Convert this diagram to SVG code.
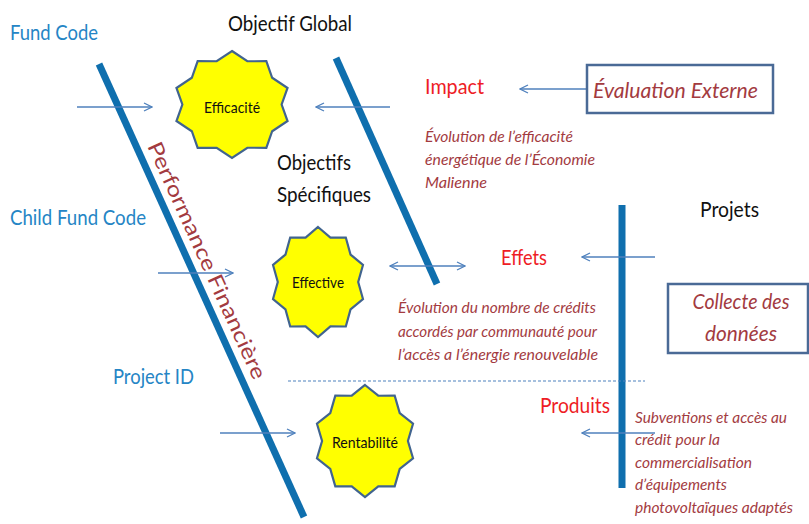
<svg xmlns="http://www.w3.org/2000/svg" xmlns:xlink="http://www.w3.org/1999/xlink" width="809" height="524" viewBox="0 0 809 524">
  <style>
    text { font-family: Lato, "Open Sans", "Liberation Sans", sans-serif; }
    .blue { fill: #2585C5; font-size: 21px; }
    .black { fill: #111111; font-size: 21px; }
    .red { fill: #EE1C25; font-size: 21px; }
    .note { fill: #A33B3F; font-size: 15px; font-style: italic; }
    .boxtext { fill: #A33B3F; font-size: 22px; font-style: italic; }
    .perf { fill: #A33B3F; font-size: 21px; }
    .startext { fill: #111111; font-size: 15px; text-anchor: middle; }
    .bar { stroke: #0F6FAE; stroke-width: 7; fill: none; }
    .arrow { stroke: #4F81BD; stroke-width: 1.3; fill: none; }
    .dash { stroke: #4F81BD; stroke-width: 1.2; stroke-dasharray: 3 2; fill: none; }
    .box { fill: #FFFFFF; stroke: #4A6A96; stroke-width: 2.5; }
    .star { fill: #FFFF00; stroke: #41648F; stroke-width: 2.2; }
  </style>
  <defs>
    <marker id="head" viewBox="0 0 10 10" refX="9" refY="5" markerWidth="10" markerHeight="10" markerUnits="userSpaceOnUse" orient="auto-start-reverse">
      <path d="M1,1 L9,5 L1,9" stroke="#4F81BD" stroke-width="1.3" fill="none"/>
    </marker>
    <!-- ten-point star, outer radius 100, inner radius 85 -->
    <polygon id="star10" class="star" vector-effect="non-scaling-stroke" points="0,-100 26.27,-80.84 58.78,-80.9 68.77,-49.96 95.11,-30.9 85,0 95.11,30.9 68.77,49.96 58.78,80.9 26.27,80.84 0,100 -26.27,80.84 -58.78,80.9 -68.77,49.96 -95.11,30.9 -85,0 -95.11,-30.9 -68.77,-49.96 -58.78,-80.9 -26.27,-80.84"/>
  </defs>

  <rect width="809" height="524" fill="#FFFFFF"/>

  <!-- structural bars -->
  <g id="bars">
    <line class="bar" x1="99" y1="64" x2="304" y2="517"/>
    <line class="bar" x1="336" y1="58" x2="437" y2="284"/>
    <line class="bar" x1="622" y1="205" x2="622" y2="488"/>
  </g>

  <!-- connectors -->
  <g id="connectors">
    <line class="arrow" x1="77" y1="107" x2="152" y2="107" marker-end="url(#head)"/>
    <line class="arrow" x1="390" y1="107" x2="316" y2="107" marker-end="url(#head)"/>
    <line class="arrow" x1="587" y1="89" x2="520" y2="89" marker-end="url(#head)"/>
    <line class="arrow" x1="158" y1="273" x2="233" y2="273" marker-end="url(#head)"/>
    <line class="arrow" x1="390" y1="266" x2="465" y2="266" marker-start="url(#head)" marker-end="url(#head)"/>
    <line class="arrow" x1="655" y1="257" x2="582" y2="257" marker-end="url(#head)"/>
    <line class="arrow" x1="220" y1="433" x2="295" y2="433" marker-end="url(#head)"/>
    <line class="arrow" x1="655" y1="433" x2="582" y2="433" marker-end="url(#head)"/>
    <line class="dash" x1="288" y1="381" x2="645" y2="381"/>
  </g>

  <!-- stars -->
  <g id="efficacite">
    <use xlink:href="#star10" transform="translate(232,104.5) scale(0.584,0.535)"/>
    <text class="startext" x="232" y="113" textLength="56" lengthAdjust="spacingAndGlyphs">Efficacité</text>
  </g>
  <g id="effective">
    <use xlink:href="#star10" transform="translate(318,282) scale(0.473,0.55)"/>
    <text class="startext" x="318" y="288" textLength="52" lengthAdjust="spacingAndGlyphs">Effective</text>
  </g>
  <g id="rentabilite">
    <use xlink:href="#star10" transform="translate(365,441) scale(0.505,0.56)"/>
    <text class="startext" x="365" y="448" textLength="66" lengthAdjust="spacingAndGlyphs">Rentabilité</text>
  </g>

  <!-- boxes -->
  <g id="evaluation-externe">
    <rect class="box" x="587" y="65" width="186" height="48"/>
    <text class="boxtext" x="593" y="98" textLength="165" lengthAdjust="spacingAndGlyphs">Évaluation Externe</text>
  </g>
  <g id="collecte-donnees">
    <rect class="box" x="668" y="284" width="140" height="69"/>
    <text class="boxtext" x="741" y="309" text-anchor="middle" textLength="97" lengthAdjust="spacingAndGlyphs">Collecte des</text>
    <text class="boxtext" x="741" y="341" text-anchor="middle" textLength="72" lengthAdjust="spacingAndGlyphs">données</text>
  </g>

  <!-- labels -->
  <g id="fund-code"><text class="blue" x="10" y="40" textLength="88" lengthAdjust="spacingAndGlyphs">Fund Code</text></g>
  <g id="child-fund-code"><text class="blue" x="10" y="225" textLength="136" lengthAdjust="spacingAndGlyphs">Child Fund Code</text></g>
  <g id="project-id"><text class="blue" x="113" y="384" textLength="81" lengthAdjust="spacingAndGlyphs">Project ID</text></g>

  <g id="objectif-global"><text class="black" x="228" y="31" textLength="124" lengthAdjust="spacingAndGlyphs">Objectif Global</text></g>
  <g id="objectifs-specifiques">
    <text class="black" x="277" y="170" textLength="74" lengthAdjust="spacingAndGlyphs">Objectifs</text>
    <text class="black" x="277" y="202" textLength="94" lengthAdjust="spacingAndGlyphs">Spécifiques</text>
  </g>
  <g id="projets"><text class="black" x="700" y="217" textLength="59" lengthAdjust="spacingAndGlyphs">Projets</text></g>

  <g id="impact">
    <text class="red" x="425" y="94" textLength="59" lengthAdjust="spacingAndGlyphs">Impact</text>
    <text class="note" x="425" y="142" textLength="148" lengthAdjust="spacingAndGlyphs">Évolution de l’efficacité</text>
    <text class="note" x="425" y="165" textLength="170" lengthAdjust="spacingAndGlyphs">énergétique de l’Économie</text>
    <text class="note" x="425" y="188" textLength="62" lengthAdjust="spacingAndGlyphs">Malienne</text>
  </g>
  <g id="effets">
    <text class="red" x="501" y="265" textLength="46" lengthAdjust="spacingAndGlyphs">Effets</text>
    <text class="note" x="398" y="313" textLength="198" lengthAdjust="spacingAndGlyphs">Évolution du nombre de crédits</text>
    <text class="note" x="398" y="337" textLength="199" lengthAdjust="spacingAndGlyphs">accordés par communauté pour</text>
    <text class="note" x="398" y="360" textLength="200" lengthAdjust="spacingAndGlyphs">l’accès a l’énergie renouvelable</text>
  </g>
  <g id="produits">
    <text class="red" x="540" y="413" textLength="70" lengthAdjust="spacingAndGlyphs">Produits</text>
    <text class="note" x="635" y="423" textLength="152" lengthAdjust="spacingAndGlyphs">Subventions et accès au</text>
    <text class="note" x="635" y="445" textLength="85" lengthAdjust="spacingAndGlyphs">crédit pour la</text>
    <text class="note" x="635" y="468" textLength="117" lengthAdjust="spacingAndGlyphs">commercialisation</text>
    <text class="note" x="635" y="490" textLength="92" lengthAdjust="spacingAndGlyphs">d’équipements</text>
    <text class="note" x="635" y="513" textLength="158" lengthAdjust="spacingAndGlyphs">photovoltaïques adaptés</text>
  </g>

  <g id="performance-financiere">
    <text class="perf" x="147" y="146" transform="rotate(65.6 147 146)" textLength="258" lengthAdjust="spacingAndGlyphs">Performance  Financière</text>
  </g>
</svg>
